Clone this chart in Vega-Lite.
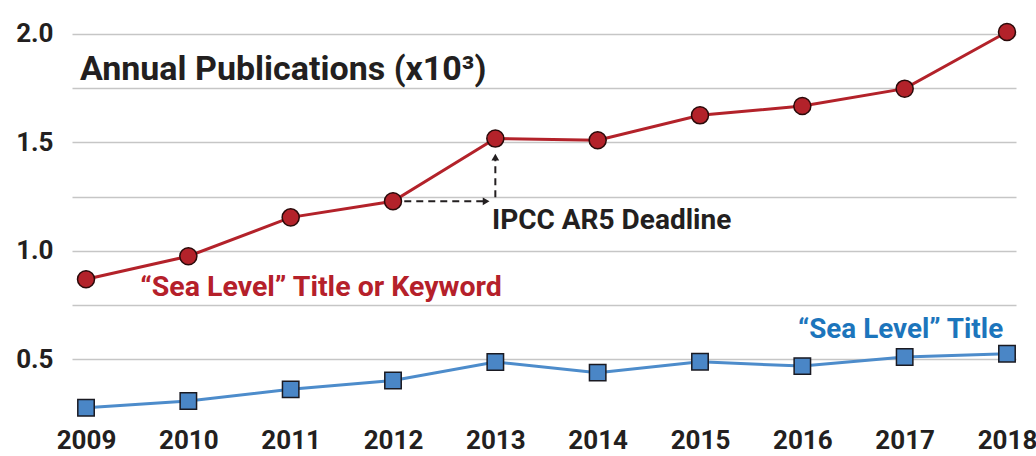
{
  "$schema": "https://vega.github.io/schema/vega-lite/v6.json",
  "width": 944,
  "height": 406,
  "autosize": {"type": "none"},
  "padding": {"left": 72, "top": 12, "right": 20, "bottom": 38},
  "background": "white",
  "config": {
    "view": {"stroke": null},
    "font": "Roboto",
    "axis": {"labelFont": "Roboto", "labelFontWeight": "bold", "labelColor": "#231f20"}
  },
  "datasets": {
    "pubs": [
      {"year": 2009, "value": 0.869, "series": "Title or Keyword"},
      {"year": 2010, "value": 0.975, "series": "Title or Keyword"},
      {"year": 2011, "value": 1.154, "series": "Title or Keyword"},
      {"year": 2012, "value": 1.228, "series": "Title or Keyword"},
      {"year": 2013, "value": 1.517, "series": "Title or Keyword"},
      {"year": 2014, "value": 1.509, "series": "Title or Keyword"},
      {"year": 2015, "value": 1.624, "series": "Title or Keyword"},
      {"year": 2016, "value": 1.667, "series": "Title or Keyword"},
      {"year": 2017, "value": 1.747, "series": "Title or Keyword"},
      {"year": 2018, "value": 2.008, "series": "Title or Keyword"}
    ],
    "title": [
      {"year": 2009, "value": 0.277, "series": "Title"},
      {"year": 2010, "value": 0.308, "series": "Title"},
      {"year": 2011, "value": 0.362, "series": "Title"},
      {"year": 2012, "value": 0.403, "series": "Title"},
      {"year": 2013, "value": 0.488, "series": "Title"},
      {"year": 2014, "value": 0.439, "series": "Title"},
      {"year": 2015, "value": 0.489, "series": "Title"},
      {"year": 2016, "value": 0.469, "series": "Title"},
      {"year": 2017, "value": 0.511, "series": "Title"},
      {"year": 2018, "value": 0.526, "series": "Title"}
    ],
    "labels": [
      {"x": 2008.94, "y": 1.786, "text": "Annual Publications (x10³)", "kind": "title"},
      {"x": 2009.53, "y": 0.79, "text": "“Sea Level” Title or Keyword", "kind": "red"},
      {"x": 2012.967, "y": 1.099, "text": "IPCC AR5 Deadline", "kind": "black"},
      {"x": 2015.958, "y": 0.597, "text": "“Sea Level” Title", "kind": "blue"}
    ],
    "hArrow": [{"x": 2012.11, "x2": 2012.9, "y": 1.228}],
    "vArrow": [{"x": 2013, "y": 1.247, "y2": 1.42}],
    "heads": [
      {"x": 2012.91, "y": 1.228, "dir": "right"},
      {"x": 2013, "y": 1.432, "dir": "up"}
    ]
  },
  "layer": [
    {
      "data": {"name": "pubs"},
      "mark": {"type": "line", "color": "#b3222a", "strokeWidth": 3},
      "encoding": {
        "x": {
          "field": "year", "type": "quantitative",
          "scale": {"domain": [2008.863, 2018.088], "nice": false, "zero": false},
          "axis": {
            "values": [2009, 2010, 2011, 2012, 2013, 2014, 2015, 2016, 2017, 2018],
            "format": "d", "title": null, "grid": false, "domain": false, "ticks": false,
            "labelFontSize": 26, "labelPadding": 9, "labelFlush": false
          }
        },
        "y": {
          "field": "value", "type": "quantitative",
          "scale": {"domain": [0.23, 2.1], "nice": false, "zero": false},
          "axis": {
            "values": [0.5, 0.75, 1, 1.25, 1.5, 1.75, 2],
            "labelExpr": "datum.value % 0.5 == 0 ? format(datum.value, '.1f') : ''",
            "title": null, "domain": false, "ticks": false,
            "grid": true, "gridColor": "#c6c6c6", "gridWidth": 1.5,
            "labelFontSize": 26, "labelPadding": 19
          }
        }
      }
    },
    {
      "data": {"name": "title"},
      "mark": {"type": "line", "color": "#4d8ccb", "strokeWidth": 3},
      "encoding": {
        "x": {"field": "year", "type": "quantitative"},
        "y": {"field": "value", "type": "quantitative"}
      }
    },
    {
      "data": {"name": "hArrow"},
      "mark": {"type": "rule", "color": "#231f20", "strokeWidth": 2, "strokeDash": [7, 5]},
      "encoding": {
        "x": {"field": "x", "type": "quantitative"},
        "x2": {"field": "x2"},
        "y": {"field": "y", "type": "quantitative"}
      }
    },
    {
      "data": {"name": "vArrow"},
      "mark": {"type": "rule", "color": "#231f20", "strokeWidth": 2, "strokeDash": [7, 5]},
      "encoding": {
        "x": {"field": "x", "type": "quantitative"},
        "y": {"field": "y", "type": "quantitative"},
        "y2": {"field": "y2"}
      }
    },
    {
      "data": {"name": "heads"},
      "mark": {"type": "point", "filled": true, "color": "#231f20", "size": 60, "opacity": 1},
      "encoding": {
        "x": {"field": "x", "type": "quantitative"},
        "y": {"field": "y", "type": "quantitative"},
        "shape": {
          "field": "dir", "type": "nominal",
          "scale": {"domain": ["right", "up"], "range": ["triangle-right", "triangle-up"]},
          "legend": null
        }
      }
    },
    {
      "data": {"name": "pubs"},
      "mark": {"type": "point", "shape": "circle", "filled": true, "fill": "#b3222a", "stroke": "#2a0a0a", "strokeWidth": 1.5, "size": 290, "opacity": 1},
      "encoding": {
        "x": {"field": "year", "type": "quantitative"},
        "y": {"field": "value", "type": "quantitative"}
      }
    },
    {
      "data": {"name": "title"},
      "mark": {"type": "point", "shape": "square", "filled": true, "fill": "#4a86c6", "stroke": "#1a1a22", "strokeWidth": 1.5, "size": 270, "opacity": 1},
      "encoding": {
        "x": {"field": "year", "type": "quantitative"},
        "y": {"field": "value", "type": "quantitative"}
      }
    },
    {
      "data": {"name": "labels"},
      "transform": [{"filter": "datum.kind == 'title'"}],
      "mark": {"type": "text", "align": "left", "baseline": "alphabetic", "fontWeight": "bold", "fontSize": 34, "color": "#231f20"},
      "encoding": {
        "x": {"field": "x", "type": "quantitative"},
        "y": {"field": "y", "type": "quantitative"},
        "text": {"field": "text"}
      }
    },
    {
      "data": {"name": "labels"},
      "transform": [{"filter": "datum.kind == 'red'"}],
      "mark": {"type": "text", "align": "left", "baseline": "alphabetic", "fontWeight": "bold", "fontSize": 28.5, "color": "#b5202a"},
      "encoding": {
        "x": {"field": "x", "type": "quantitative"},
        "y": {"field": "y", "type": "quantitative"},
        "text": {"field": "text"}
      }
    },
    {
      "data": {"name": "labels"},
      "transform": [{"filter": "datum.kind == 'black'"}],
      "mark": {"type": "text", "align": "left", "baseline": "alphabetic", "fontWeight": "bold", "fontSize": 28, "color": "#231f20"},
      "encoding": {
        "x": {"field": "x", "type": "quantitative"},
        "y": {"field": "y", "type": "quantitative"},
        "text": {"field": "text"}
      }
    },
    {
      "data": {"name": "labels"},
      "transform": [{"filter": "datum.kind == 'blue'"}],
      "mark": {"type": "text", "align": "left", "baseline": "alphabetic", "fontWeight": "bold", "fontSize": 27.8, "color": "#1c75bc"},
      "encoding": {
        "x": {"field": "x", "type": "quantitative"},
        "y": {"field": "y", "type": "quantitative"},
        "text": {"field": "text"}
      }
    }
  ]
}
